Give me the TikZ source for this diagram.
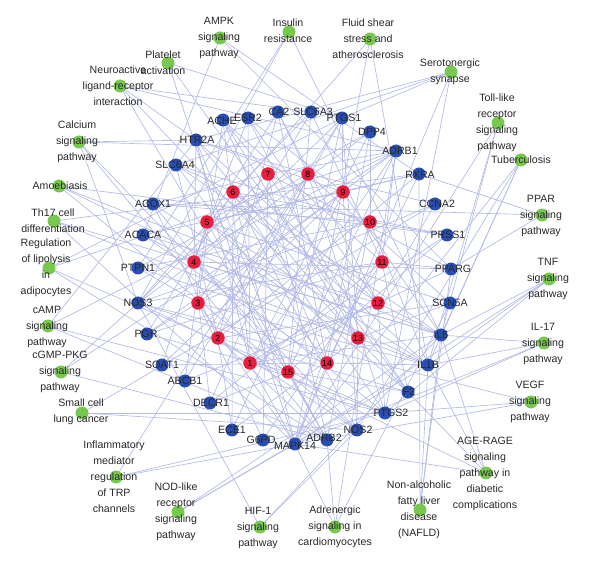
\documentclass[tikz,border=0pt]{standalone}
\usepackage{fontspec}
\setmainfont{Liberation Sans}
\usetikzlibrary{backgrounds}
\definecolor{edgec}{RGB}{178,186,230}
\definecolor{bcol}{RGB}{40,78,180}
\definecolor{rcol}{RGB}{232,30,62}
\definecolor{gcol}{RGB}{120,200,80}
\definecolor{txt}{RGB}{40,40,40}
\tikzset{
  gnode/.style={circle, fill=gcol, minimum size=13pt, inner sep=0pt},
  bnode/.style={circle, fill=bcol, minimum size=13pt, inner sep=0pt},
  rnode/.style={circle, fill=rcol, minimum size=13.5pt, inner sep=0pt, text=black, font=\fontsize{9}{9}\selectfont},
  lab/.style={align=center, inner sep=0pt, text=txt, font=\fontsize{10.6}{16}\selectfont},
  edge/.style={draw=edgec, line width=0.65pt}
}
\begin{document}
\begin{tikzpicture}[x=1pt,y=-1pt]
\useasboundingbox (0,0) rectangle (590,564);
% green pathway nodes
\node[gnode] (gplat) at (168,63) {};
\node[gnode] (gneuro) at (120,86) {};
\node[gnode] (gcalc) at (79,142) {};
\node[gnode] (gamoeb) at (59,186) {};
\node[gnode] (gth) at (54,221) {};
\node[gnode] (glipo) at (49,268) {};
\node[gnode] (gcamp) at (48,326) {};
\node[gnode] (gcgmp) at (61,372) {};
\node[gnode] (gsmall) at (82,413) {};
\node[gnode] (ginfl) at (116,477) {};
\node[gnode] (gnod) at (178,512) {};
\node[gnode] (ghif) at (260,527) {};
\node[gnode] (gadren) at (335,527) {};
\node[gnode] (gnafld) at (420,510) {};
\node[gnode] (gage) at (486,473) {};
\node[gnode] (gvegf) at (531,402) {};
\node[gnode] (gil) at (544,343) {};
\node[gnode] (gtnf) at (549,279) {};
\node[gnode] (gppar) at (542,215) {};
\node[gnode] (gtub) at (521,160) {};
\node[gnode] (gtoll) at (498,123) {};
\node[gnode] (gsero) at (451,72) {};
\node[gnode] (gfluid) at (370,39) {};
\node[gnode] (gins) at (289,32) {};
\node[gnode] (gampk) at (220,38) {};
% blue target nodes
\node[bnode] (htr) at (196,140) {};
\node[bnode] (slcfour) at (176,165) {};
\node[bnode] (ache) at (223,120) {};
\node[bnode] (esr) at (248,118) {};
\node[bnode] (ca) at (278,112) {};
\node[bnode] (slcthree) at (311,112) {};
\node[bnode] (ptgsone) at (342,118) {};
\node[bnode] (dpp) at (370,132) {};
\node[bnode] (adrbone) at (396,151) {};
\node[bnode] (rxra) at (419,174) {};
\node[bnode] (ccna) at (435,204) {};
\node[bnode] (prss) at (447,235) {};
\node[bnode] (pparg) at (451,269) {};
\node[bnode] (scn) at (450,303) {};
\node[bnode] (ilsix) at (441,335) {};
\node[bnode] (ilib) at (428,365) {};
\node[bnode] (ftwo) at (408,392) {};
\node[bnode] (ptgstwo) at (385,413) {};
\node[bnode] (nostwo) at (357,430) {};
\node[bnode] (adrbtwo) at (327,440) {};
\node[bnode] (mapk) at (295,444) {};
\node[bnode] (gpd) at (263,440) {};
\node[bnode] (ece) at (232,430) {};
\node[bnode] (decr) at (210,403) {};
\node[bnode] (abcb) at (185,381) {};
\node[bnode] (soat) at (162,365) {};
\node[bnode] (pgr) at (147,334) {};
\node[bnode] (nosthree) at (138,303) {};
\node[bnode] (ptpn) at (138,268) {};
\node[bnode] (acaca) at (143,235) {};
\node[bnode] (acox) at (153,204) {};
% red compound nodes
\node[rnode] (r1) at (250,363) {1};
\node[rnode] (r2) at (218,338) {2};
\node[rnode] (r3) at (198,303) {3};
\node[rnode] (r4) at (194,262) {4};
\node[rnode] (r5) at (207,222) {5};
\node[rnode] (r6) at (233,192) {6};
\node[rnode] (r7) at (268,174) {7};
\node[rnode] (r8) at (308,174) {8};
\node[rnode] (r9) at (343,192) {9};
\node[rnode] (r10) at (370,222) {10};
\node[rnode] (r11) at (382,262) {11};
\node[rnode] (r12) at (378,303) {12};
\node[rnode] (r13) at (358,338) {13};
\node[rnode] (r14) at (327,363) {14};
\node[rnode] (r15) at (288,372) {15};
% labels of green nodes
\node[lab] (lplat) at (163,63) {Platelet\\activation};
\node[lab] (lneuro) at (118,86) {Neuroactive\\ligand-receptor\\interaction};
\node[lab] (lcalc) at (77,142) {Calcium\\signaling\\pathway};
\node[lab] (lamoeb) at (60,186) {Amoebiasis};
\node[lab] (lth) at (53,221) {Th17 cell\\differentiation};
\node[lab] (llipo) at (46,268) {Regulation\\of lipolysis\\in\\adipocytes};
\node[lab] (lcamp) at (47,327) {cAMP\\signaling\\pathway};
\node[lab] (lcgmp) at (60,372) {cGMP-PKG\\signaling\\pathway};
\node[lab] (lsmall) at (81,412) {Small cell\\lung cancer};
\node[lab] (linfl) at (114,477) {Inflammatory\\mediator\\regulation\\of TRP\\channels};
\node[lab] (lnod) at (176,512) {NOD-like\\receptor\\signaling\\pathway};
\node[lab] (lhif) at (258,528) {HIF-1\\signaling\\pathway};
\node[lab] (ladren) at (335,527) {Adrenergic\\signaling in\\cardiomyocytes};
\node[lab] (lnafld) at (419,510) {Non-alcoholic\\fatty liver\\disease\\(NAFLD)};
\node[lab] (lage) at (485,474) {AGE-RAGE\\signaling\\pathway in\\diabetic\\complications};
\node[lab] (lvegf) at (530,402) {VEGF\\signaling\\pathway};
\node[lab] (lil) at (543,344) {IL-17\\signaling\\pathway};
\node[lab] (ltnf) at (548,279) {TNF\\signaling\\pathway};
\node[lab] (lppar) at (541,216) {PPAR\\signaling\\pathway};
\node[lab] (ltub) at (521,160) {Tuberculosis};
\node[lab] (ltoll) at (497,123) {Toll-like\\receptor\\signaling\\pathway};
\node[lab] (lsero) at (450,72) {Serotonergic\\synapse};
\node[lab] (lfluid) at (368,39) {Fluid shear\\stress and\\atherosclerosis};
\node[lab] (lins) at (288,31) {Insulin\\resistance};
\node[lab] (lampk) at (219,38) {AMPK\\signaling\\pathway};
% labels of blue nodes
\node[lab] (lhtr) at (197,140) {HTR2A};
\node[lab] (lslcfour) at (175,165) {SLC6A4};
\node[lab] (lache) at (222,121) {ACHE};
\node[lab] (lesr) at (248,118) {ESR2};
\node[lab] (lca) at (279,112) {CA2};
\node[lab] (lslcthree) at (313,112) {SLC6A3};
\node[lab] (lptgsone) at (344,118) {PTGS1};
\node[lab] (ldpp) at (372,132) {DPP4};
\node[lab] (ladrbone) at (400,151) {ADRB1};
\node[lab] (lrxra) at (420,175) {RXRA};
\node[lab] (lccna) at (437,204) {CCNA2};
\node[lab] (lprss) at (448,235) {PRSS1};
\node[lab] (lpparg) at (453,269) {PPARG};
\node[lab] (lscn) at (450,303) {SCN5A};
\node[lab] (lilsix) at (441,335) {IL6};
\node[lab] (lilib) at (428,365) {IL1B};
\node[lab] (lftwo) at (409,392) {F2};
\node[lab] (lptgstwo) at (391,413) {PTGS2};
\node[lab] (lnostwo) at (358,430) {NOS2};
\node[lab] (ladrbtwo) at (324,438) {ADRB2};
\node[lab] (lmapk) at (295,446) {MAPK14};
\node[lab] (lgpd) at (261,440) {G6PD};
\node[lab] (lece) at (232,430) {ECE1};
\node[lab] (ldecr) at (211,403) {DECR1};
\node[lab] (labcb) at (185,381) {ABCB1};
\node[lab] (lsoat) at (162,365) {SOAT1};
\node[lab] (lpgr) at (146,334) {PGR};
\node[lab] (lnosthree) at (138,303) {NOS3};
\node[lab] (lptpn) at (138,268) {PTPN1};
\node[lab] (lacaca) at (143,235) {ACACA};
\node[lab] (lacox) at (153,204) {ACOX1};
% connectors
\begin{scope}[on background layer]
\foreach \a/\b in {
 gplat/ptgsone, gplat/ftwo, gplat/mapk,
 gneuro/htr, gneuro/adrbone, gneuro/adrbtwo, gneuro/ftwo, gneuro/slcthree,
 gcalc/htr, gcalc/adrbone, gcalc/adrbtwo, gcalc/nostwo, gcalc/nosthree,
 gamoeb/ilib, gamoeb/ilsix, gamoeb/nostwo, gamoeb/prss,
 gth/ilsix, gth/ilib, gth/rxra, gth/mapk,
 glipo/adrbone, glipo/adrbtwo, glipo/ptgsone, glipo/ptgstwo,
 gcamp/adrbone, gcamp/adrbtwo, gcamp/htr, gcamp/ptgstwo,
 gcgmp/adrbone, gcgmp/adrbtwo, gcgmp/nosthree,
 gsmall/ptgstwo, gsmall/nostwo, gsmall/ccna,
 ginfl/ptgsone, ginfl/ptgstwo, ginfl/mapk,
 gnod/mapk, gnod/ilsix, gnod/ilib,
 ghif/nostwo, ghif/nosthree, ghif/ilsix,
 gadren/mapk, gadren/adrbone, gadren/adrbtwo, gadren/scn,
 gnafld/ilsix, gnafld/ilib, gnafld/pparg, gnafld/rxra,
 gage/ilsix, gage/ilib, gage/nosthree, gage/mapk, gage/ftwo,
 gvegf/ptgstwo, gvegf/nosthree, gvegf/mapk,
 gil/ilsix, gil/ilib, gil/mapk, gil/ptgstwo,
 gtnf/ilsix, gtnf/ilib, gtnf/mapk, gtnf/ptgstwo,
 gppar/pparg, gppar/rxra, gppar/acox,
 gtub/ilsix, gtub/ilib, gtub/mapk, gtub/nostwo,
 gtoll/ilsix, gtoll/ilib, gtoll/mapk,
 gsero/htr, gsero/slcfour, gsero/ptgsone, gsero/ptgstwo, gsero/mapk,
 gfluid/mapk, gfluid/nosthree, gfluid/ilib,
 gins/ptpn, gins/ilsix, gins/nosthree,
 gampk/acaca, gampk/pparg, gampk/rxra,
 r1/htr, r1/ache, r1/esr, r1/dpp, r1/pparg, r1/ilsix, r1/ptgstwo, r1/mapk, r1/adrbone, r1/prss,
 r2/slcfour, r2/ca, r2/ptgsone, r2/rxra, r2/scn, r2/ftwo, r2/nostwo, r2/adrbtwo, r2/ece, r2/acox,
 r3/ache, r3/slcthree, r3/adrbone, r3/ccna, r3/ilib, r3/mapk, r3/gpd, r3/pgr, r3/ptpn,
 r4/htr, r4/esr, r4/ptgsone, r4/pparg, r4/ilsix, r4/ptgstwo, r4/decr, r4/nosthree, r4/acaca, r4/dpp,
 r5/ca, r5/dpp, r5/rxra, r5/scn, r5/ftwo, r5/adrbtwo, r5/soat, r5/abcb, r5/ilib,
 r6/slcfour, r6/slcthree, r6/prss, r6/ilib, r6/nostwo, r6/mapk, r6/ece, r6/pgr, r6/ptgstwo, r6/ilsix,
 r7/ache, r7/adrbone, r7/pparg, r7/ftwo, r7/gpd, r7/nosthree, r7/acox, r7/adrbtwo,
 r8/htr, r8/ca, r8/ccna, r8/scn, r8/ptgstwo, r8/decr, r8/ptpn, r8/abcb,
 r9/esr, r9/ptgsone, r9/rxra, r9/ilsix, r9/nostwo, r9/soat, r9/acaca, r9/htr, r9/pgr, r9/ece,
 r10/slcfour, r10/dpp, r10/prss, r10/ilib, r10/adrbtwo, r10/mapk, r10/nosthree, r10/acox, r10/ptpn,
 r11/slcthree, r11/adrbone, r11/pparg, r11/ftwo, r11/gpd, r11/pgr, r11/ache, r11/decr, r11/nosthree,
 r12/htr, r12/ca, r12/ccna, r12/ilsix, r12/ptgstwo, r12/abcb, r12/acaca, r12/slcfour, r12/esr,
 r13/esr, r13/ptgsone, r13/scn, r13/nostwo, r13/ece, r13/ptpn, r13/acox, r13/htr, r13/ache,
 r14/ache, r14/dpp, r14/rxra, r14/ilib, r14/mapk, r14/soat, r14/nosthree, r14/slcfour, r14/acaca, r14/ca,
 r15/slcthree, r15/adrbone, r15/prss, r15/ftwo, r15/adrbtwo, r15/decr, r15/pgr, r15/acox, r15/htr, r15/ptgsone}
 \draw[edge] (\a.center) -- (\b.center);
\end{scope}
\end{tikzpicture}
\end{document}
